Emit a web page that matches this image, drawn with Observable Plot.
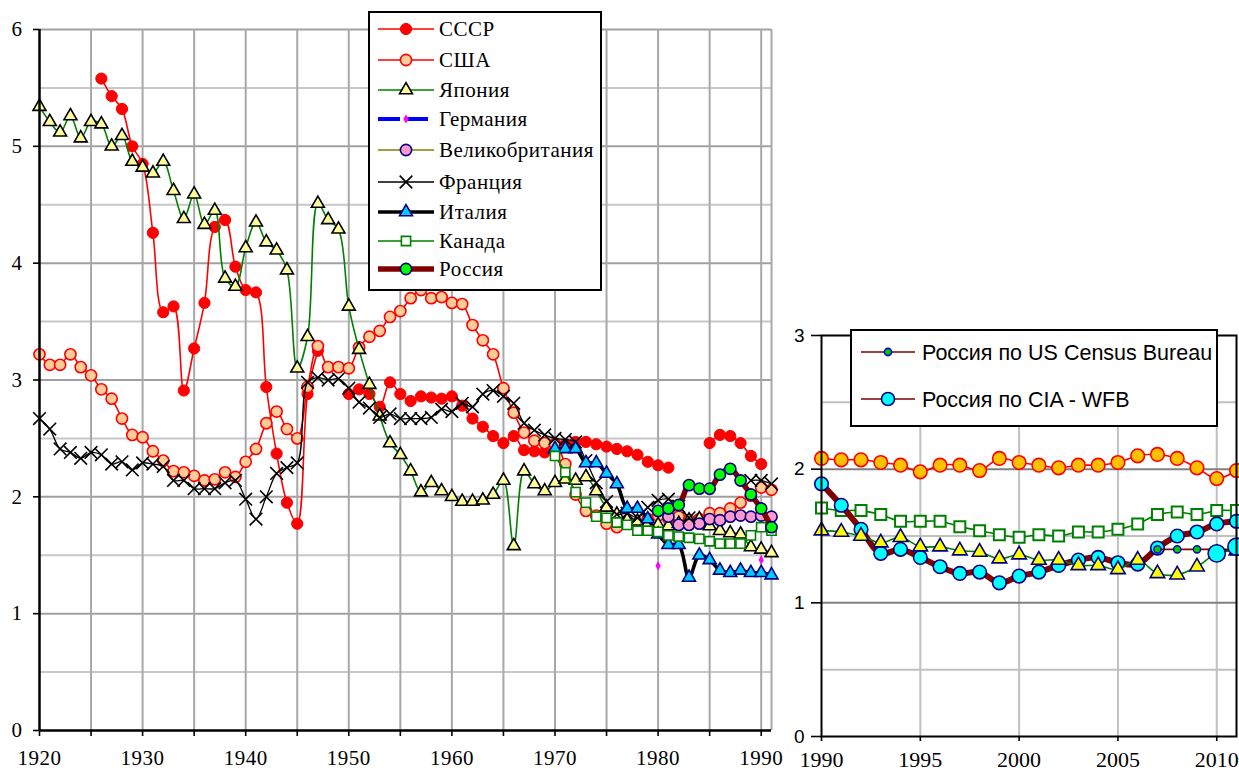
<!DOCTYPE html>
<html><head><meta charset="utf-8">
<script src="https://cdn.jsdelivr.net/npm/d3@7"></script>
<script src="https://cdn.jsdelivr.net/npm/@observablehq/plot@0.6"></script>
<style>
html,body{margin:0;padding:0;background:#fff;}
#wrap{position:relative;width:1239px;height:771px;overflow:hidden;background:#fff;}
#wrap > svg{position:absolute;overflow:visible;}
</style></head><body><div id="wrap"></div>
<script>
// ---------- DATA: left panel (1920-1991) ----------
const yearsLeft = [1920,1921,1922,1923,1924,1925,1926,1927,1928,1929,
  1930,1931,1932,1933,1934,1935,1936,1937,1938,1939,
  1940,1941,1942,1943,1944,1945,1946,1947,1948,1949,
  1950,1951,1952,1953,1954,1955,1956,1957,1958,1959,
  1960,1961,1962,1963,1964,1965,1966,1967,1968,1969,
  1970,1971,1972,1973,1974,1975,1976,1977,1978,1979,
  1980,1981,1982,1983,1984,1985,1986,1987,1988,1989,
  1990,1991];
const ussr = [null,null,null,null,null,null,5.58,5.43,5.32,5.00,
  4.85,4.26,3.58,3.63,2.91,3.27,3.66,4.31,4.37,3.97,
  3.77,3.75,2.94,2.37,1.95,1.77,2.88,3.25,null,null,
  2.88,2.92,2.88,2.77,2.98,2.88,2.82,2.86,2.85,2.84,
  2.86,2.78,2.67,2.60,2.52,2.46,2.52,2.40,2.39,2.38,
  2.40,2.45,2.47,2.47,2.45,2.43,2.41,2.39,2.36,2.30,
  2.27,2.25,null,null,null,2.46,2.53,2.52,2.46,2.35,
  2.28,null];
const usa = [3.22,3.13,3.13,3.22,3.11,3.04,2.92,2.84,2.67,2.53,
  2.51,2.39,2.31,2.22,2.21,2.18,2.14,2.15,2.21,2.17,
  2.30,2.41,2.63,2.73,2.58,2.50,2.94,3.29,3.11,3.11,
  3.10,3.28,3.37,3.42,3.54,3.59,3.70,3.77,3.70,3.71,
  3.66,3.65,3.47,3.34,3.22,2.93,2.72,2.55,2.48,2.46,
  2.45,2.28,2.02,1.88,1.84,1.77,1.74,1.79,1.76,1.81,
  1.84,1.81,1.83,1.80,1.81,1.86,1.86,1.90,1.95,2.01,
  2.08,2.06];
const japan = [5.34,5.21,5.12,5.26,5.07,5.21,5.19,5.00,5.09,4.87,
  4.82,4.77,4.87,4.62,4.38,4.59,4.33,4.45,3.87,3.80,
  4.13,4.35,4.18,4.11,3.94,3.10,3.37,4.51,4.37,4.29,
  3.63,3.26,2.96,2.69,2.46,2.36,2.22,2.04,2.12,2.05,
  2.00,1.96,1.96,1.97,2.02,2.14,1.58,2.22,2.11,2.05,
  2.12,2.15,2.14,2.17,2.05,1.91,1.85,1.80,1.79,1.77,
  1.76,1.75,1.77,1.80,1.81,1.75,1.71,1.69,1.68,1.57,
  1.55,1.52];
const germany = [null,null,null,null,null,null,null,null,null,null,
  null,null,null,null,null,null,null,null,null,null,
  null,null,null,null,null,null,null,null,null,null,
  null,null,null,null,null,null,null,null,null,null,
  null,null,null,null,null,null,null,null,null,null,
  null,null,null,null,null,null,null,null,null,null,
  1.41,null,null,null,null,null,null,null,null,null,
  1.46,null];
const uk = [null,null,null,null,null,null,null,null,null,null,
  null,null,null,null,null,null,null,null,null,null,
  null,null,null,null,null,null,null,null,null,null,
  null,null,null,null,null,null,null,null,null,null,
  null,null,null,null,null,null,null,null,null,null,
  null,null,null,null,null,null,null,null,null,null,
  null,1.83,1.76,1.76,1.77,1.81,1.80,1.83,1.84,1.83,
  1.84,1.83];
const france = [2.67,2.58,2.41,2.38,2.33,2.38,2.36,2.28,2.30,2.23,
  2.29,2.28,2.26,2.14,2.14,2.07,2.07,2.07,2.12,2.14,
  1.98,1.81,2.00,2.20,2.25,2.29,2.98,3.02,3.00,3.01,
  2.93,2.81,2.76,2.68,2.71,2.67,2.67,2.67,2.68,2.75,
  2.73,2.80,2.77,2.88,2.91,2.86,2.80,2.63,2.57,2.53,
  2.50,2.49,2.47,2.31,2.12,1.96,1.85,1.86,1.82,1.91,
  1.97,1.98,1.92,1.82,null,null,null,null,null,2.14,
  2.14,2.11];
const italy = [null,null,null,null,null,null,null,null,null,null,
  null,null,null,null,null,null,null,null,null,null,
  null,null,null,null,null,null,null,null,null,null,
  null,null,null,null,null,null,null,null,null,null,
  null,null,null,null,null,null,null,null,null,null,
  2.41,2.41,2.41,2.29,2.29,2.20,2.11,1.90,1.90,1.81,
  1.68,1.59,1.59,1.31,1.50,1.46,1.37,1.35,1.37,1.35,
  1.35,1.33];
const canada = [null,null,null,null,null,null,null,null,null,null,
  null,null,null,null,null,null,null,null,null,null,
  null,null,null,null,null,null,null,null,null,null,
  null,null,null,null,null,null,null,null,null,null,
  null,null,null,null,null,null,null,null,null,null,
  2.35,2.21,2.04,1.95,1.83,1.82,1.78,1.76,1.71,1.71,
  1.70,1.67,1.66,1.65,1.64,1.62,1.60,1.60,1.60,1.67,
  1.74,1.71];
const russia = [null,null,null,null,null,null,null,null,null,null,
  null,null,null,null,null,null,null,null,null,null,
  null,null,null,null,null,null,null,null,null,null,
  null,null,null,null,null,null,null,null,null,null,
  null,null,null,null,null,null,null,null,null,null,
  null,null,null,null,null,null,null,null,null,null,
  1.88,1.90,1.93,2.10,2.07,2.07,2.19,2.24,2.14,2.02,
  1.90,1.74];
const xTicksLeft = [1920,1930,1940,1950,1960,1970,1980,1990];
const xTickMarksLeft = [1920,1925,1930,1935,1940,1945,1950,1955,1960,1965,1970,1975,1980,1985,1990];
const xGridLeft = [1925,1930,1935,1940,1945,1950,1955,1960,1965,1970,1975,1980,1985,1990,1991];
const yTicksLeft = [0,1,2,3,4,5,6];
const yMinorLeft = [0.5,1.5,2.5,3.5,4.5,5.5];

// ---------- DATA: right panel (1990-2011) ----------
const yearsRight = [1990,1991,1992,1993,1994,1995,1996,1997,1998,1999,2000,2001,2002,2003,2004,2005,2006,2007,2008,2009,2010,2011];
const usaR = [2.08,2.07,2.07,2.05,2.03,1.98,2.03,2.03,1.99,2.08,2.05,2.03,2.01,2.03,2.03,2.05,2.10,2.11,2.08,2.01,1.93,1.99];
const canadaR = [1.71,1.69,1.69,1.66,1.61,1.61,1.61,1.57,1.54,1.51,1.49,1.51,1.50,1.53,1.53,1.55,1.59,1.66,1.68,1.66,1.69,1.69];
const russiaR = [1.89,1.73,1.55,1.37,1.40,1.34,1.27,1.22,1.23,1.15,1.20,1.23,1.28,1.32,1.34,1.30,1.29,1.41,1.50,1.53,1.59,1.61];
const japanR = [1.54,1.53,1.50,1.45,1.49,1.42,1.42,1.39,1.38,1.33,1.36,1.32,1.32,1.28,1.28,1.25,1.32,1.22,1.21,1.27,1.37,1.39];
const russiaCensus = [null,null,null,null,null,null,null,null,null,null,null,null,null,null,null,null,null,1.40,1.40,1.40,1.40,1.40];
const russiaCIA = [null,null,null,null,null,null,null,null,null,null,null,null,null,null,null,null,null,null,null,null,1.37,1.42];
const xTicksRight = [1990,1995,2000,2005,2010];
const xGridRight = [1995,2000,2005,2010];
const yTicksRight = [0,1,2,3];
const yMinorRight = [0.5,1.5,2.5];

const legendLeft = ["СССР","США","Япония","Германия","Великобритания","Франция","Италия","Канада","Россия"];
const legendRight = ["Россия по US Census Bureau","Россия по CIA - WFB"];

// ---------- STYLES ----------
const SERIF = "'Liberation Serif', Tinos, 'Times New Roman', 'DejaVu Serif', serif";
const SANS = "'Liberation Sans', Arimo, Arial, sans-serif";
const stylesLeft = [
  {line:{stroke:"#FF0000", strokeWidth:1.6}, dot:{symbol:"circle", r:5.6, fill:"#FF0000", stroke:"#FF0000", strokeWidth:1}},
  {line:{stroke:"#FF0000", strokeWidth:1.6}, dot:{symbol:"circle", r:5.6, fill:"#FFCC99", stroke:"#FF0000", strokeWidth:1.6}},
  {line:{stroke:"#008000", strokeWidth:1.6}, dot:{symbol:"triangle", r:4.8, fill:"#FFFF99", stroke:"#000000", strokeWidth:1.6}},
  {line:{stroke:"#0000FF", strokeWidth:4, strokeDasharray:"20,5"}, dot:{symbol:"diamond", r:2.8, fill:"#FF00FF", stroke:"none"}},
  {line:{stroke:"#808000", strokeWidth:1.6}, dot:{symbol:"circle", r:5.6, fill:"#FF99CC", stroke:"#000080", strokeWidth:1.6}},
  {line:{stroke:"#000000", strokeWidth:1.3}, dot:{symbol:"times", r:5.8, fill:"none", stroke:"#000000", strokeWidth:1.6}},
  {line:{stroke:"#000000", strokeWidth:3.6}, dot:{symbol:"triangle", r:4.8, fill:"#00CCFF", stroke:"#000080", strokeWidth:1.6}},
  {line:{stroke:"#008000", strokeWidth:1.6}, dot:{symbol:"square", r:5.2, fill:"#FFFFFF", stroke:"#008000", strokeWidth:1.6}},
  {line:{stroke:"#800000", strokeWidth:5.5}, dot:{symbol:"circle", r:5.6, fill:"#00FF00", stroke:"#000080", strokeWidth:1.6}}
];
const valuesLeft = [ussr, usa, japan, germany, uk, france, italy, canada, russia];

const wrap = document.getElementById("wrap");
function rowsOf(years, values){ return years.map((year,i)=>({year, value: values[i]})); }

const leftSeriesMarks = [];
valuesLeft.forEach((vals, k) => {
  const rows = rowsOf(yearsLeft, vals);
  leftSeriesMarks.push(Plot.line(rows, {x:"year", y:"value", curve:"catmull-rom", ...stylesLeft[k].line}));
  leftSeriesMarks.push(Plot.dot(rows.filter(d => d.value != null), {x:"year", y:"value", ...stylesLeft[k].dot}));
});

const leftPlot = Plot.plot({
  width: 790, height: 771,
  marginLeft: 39, marginRight: 19, marginTop: 29, marginBottom: 41,
  x: {domain: [1920, 1991], label: null},
  y: {domain: [0, 6], label: null},
  style: {fontFamily: SERIF, fontSize: "21px", letterSpacing: "0.5px", background: "transparent", overflow: "visible", color: "#000"},
  marks: [
    Plot.ruleY(yMinorLeft, {stroke:"#C8C8C8", strokeWidth:2}),
    Plot.ruleY(yTicksLeft.slice(1), {stroke:"#A0A0A0", strokeWidth:2}),
    Plot.ruleX(xGridLeft, {stroke:"#A8A8A8", strokeWidth:2}),
    ...leftSeriesMarks,
    Plot.ruleX([1920], {stroke:"#000", strokeWidth:2.5}),
    Plot.ruleY([0], {stroke:"#000", strokeWidth:2.5}),
    Plot.axisX({ticks: xTickMarksLeft, tickSize: 6, tickFormat: () => "", strokeWidth: 1.6, label: null}),
    Plot.axisX({ticks: xTicksLeft, tickSize: 0, tickPadding: 20, tickFormat: d => String(d), fontSize: 21, fontFamily: SERIF, label: null}),
    Plot.axisY({ticks: yTicksLeft, tickSize: 6, tickPadding: 11, tickFormat: d => String(d), fontSize: 21, fontFamily: SERIF, strokeWidth: 1.6, label: null})
  ]
});
leftPlot.style.left = "0px"; leftPlot.style.top = "0px";
wrap.appendChild(leftPlot);

// ---------- RIGHT ----------
const stylesRight = [
  {vals: usaR, line:{stroke:"#FF0000", strokeWidth:1.6}, dot:{symbol:"circle", r:6.8, fill:"#FFC000", stroke:"#FF0000", strokeWidth:1.6}},
  {vals: canadaR, line:{stroke:"#008000", strokeWidth:1.6}, dot:{symbol:"square", r:6.2, fill:"#FFFFFF", stroke:"#008000", strokeWidth:2}},
  {vals: russiaR, line:{stroke:"#800000", strokeWidth:6}, dot:{symbol:"circle", r:6.8, fill:"#00FFFF", stroke:"#000080", strokeWidth:1.6}},
  {vals: japanR, line:{stroke:"#008000", strokeWidth:1.6}, dot:{symbol:"triangle", r:5.4, fill:"#FFFF00", stroke:"#000080", strokeWidth:1.6}},
  {vals: russiaCensus, line:{stroke:"#800000", strokeWidth:1.6}, dot:{symbol:"circle", r:3.6, fill:"#00CC00", stroke:"#0000CC", strokeWidth:1.4}},
  {vals: russiaCIA, line:{stroke:"#800000", strokeWidth:1.6}, dot:{symbol:"circle", r:8.6, fill:"#00FFFF", stroke:"#000080", strokeWidth:1.6}}
];
const rightSeriesMarks = [];
stylesRight.forEach(s => {
  const rows = rowsOf(yearsRight, s.vals);
  rightSeriesMarks.push(Plot.line(rows, {x:"year", y:"value", curve:"catmull-rom", ...s.line}));
  rightSeriesMarks.push(Plot.dot(rows.filter(d => d.value != null), {x:"year", y:"value", ...s.dot}));
});

const rightPlot = Plot.plot({
  width: 449, height: 771,
  marginLeft: 31, marginRight: 3, marginTop: 335, marginBottom: 35,
  x: {domain: [1990, 2011], label: null},
  y: {domain: [0, 3], label: null},
  style: {fontFamily: SERIF, fontSize: "22px", background: "transparent", overflow: "visible", color: "#000"},
  marks: [
    Plot.ruleY(yMinorRight, {stroke:"#C0C0C0", strokeWidth:2}),
    Plot.ruleX(xGridRight, {stroke:"#C0C0C0", strokeWidth:2}),
    Plot.ruleY([1,2], {stroke:"#808080", strokeWidth:2}),
    ...rightSeriesMarks,
    Plot.frame({stroke:"#000", strokeWidth:2}),
    Plot.axisX({ticks: xTicksRight, tickSize: 5, tickPadding: 10, tickFormat: d => String(d), fontSize: 22, fontFamily: SERIF, strokeWidth: 1.6, label: null}),
    Plot.axisY({ticks: yTicksRight, tickSize: 10, tickPadding: 7, tickFormat: d => String(d), fontSize: 19, fontFamily: SANS, strokeWidth: 1.6, label: null})
  ]
});
rightPlot.style.left = "790px"; rightPlot.style.top = "0px";
wrap.appendChild(rightPlot);

// ---------- LEGENDS ----------
function symPath(name, r){
  const map = {circle: d3.symbolCircle, triangle: d3.symbolTriangle, diamond: d3.symbolDiamond, times: d3.symbolTimes, square: d3.symbolSquare};
  return d3.symbol(map[name], Math.PI * r * r)();
}
// left legend
{
  const svg = d3.select(wrap).append("svg")
    .attr("width", 234).attr("height", 280)
    .style("left", "368px").style("top", "11px");
  svg.append("rect").attr("x", 1).attr("y", 1).attr("width", 232).attr("height", 278)
    .attr("fill", "#fff").attr("stroke", "#000").attr("stroke-width", 2);
  const rowY = [18, 49, 79, 108, 139, 171, 201, 230, 258];
  legendLeft.forEach((name, k) => {
    const st = stylesLeft[k];
    const g = svg.append("g").attr("transform", `translate(0,${rowY[k]})`);
    g.append("line").attr("x1", 10).attr("x2", 66).attr("y1", 0).attr("y2", 0)
      .attr("stroke", st.line.stroke).attr("stroke-width", st.line.strokeWidth)
      .attr("stroke-dasharray", st.line.strokeDasharray ? "22,6" : null);
    g.append("path").attr("d", symPath(st.dot.symbol, st.dot.r))
      .attr("transform", "translate(38,0)")
      .attr("fill", st.dot.fill).attr("stroke", st.dot.stroke)
      .attr("stroke-width", st.dot.strokeWidth || 1);
    g.append("text").attr("x", 71).attr("y", 0).attr("dy", "0.35em")
      .style("font-family", SERIF).style("letter-spacing", "0.5px")
      .style("font-size", "21px").attr("fill", "#000").text(name);
  });
}
// right legend
{
  const svg = d3.select(wrap).append("svg")
    .attr("width", 368).attr("height", 98)
    .style("left", "850px").style("top", "329px");
  svg.append("rect").attr("x", 1).attr("y", 1).attr("width", 366).attr("height", 96)
    .attr("fill", "#fff").attr("stroke", "#000").attr("stroke-width", 2);
  const rowY = [23, 70];
  const st = [stylesRight[4], stylesRight[5]];
  legendRight.forEach((name, k) => {
    const g = svg.append("g").attr("transform", `translate(0,${rowY[k]})`);
    g.append("line").attr("x1", 11).attr("x2", 65).attr("y1", 0).attr("y2", 0)
      .attr("stroke", "#800000").attr("stroke-width", 1.6);
    g.append("path").attr("d", symPath("circle", k === 0 ? 3.6 : 6.5))
      .attr("transform", "translate(38,0)")
      .attr("fill", st[k].dot.fill).attr("stroke", st[k].dot.stroke).attr("stroke-width", 1.6);
    g.append("text").attr("x", 72).attr("y", 0).attr("dy", "0.36em")
      .style("font-family", SANS)
      .style("font-size", "21.5px").attr("fill", "#000").text(name);
  });
}
</script></body></html>
